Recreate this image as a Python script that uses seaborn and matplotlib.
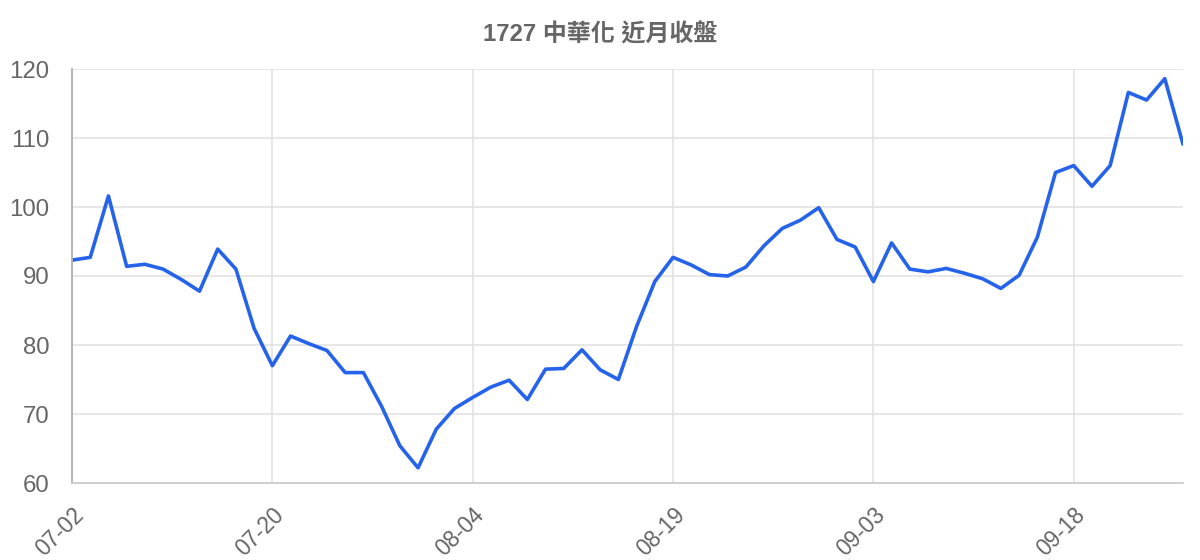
import matplotlib
matplotlib.use("Agg")
import matplotlib.pyplot as plt
import seaborn as sns
import numpy as np
import pandas as pd

title = "1727 中華化 近月收盤"
tick_labels = ["07-02", "07-20", "08-04", "08-19", "09-03", "09-18"]
tick_step = 11
close = [
    92.3, 92.7, 101.6, 91.4, 91.7, 91.0, 89.5, 87.8, 93.9, 91.0,
    82.4, 77.0, 81.3, 80.2, 79.2, 76.0, 76.0, 71.1, 65.4, 62.2,
    67.8, 70.8, 72.4, 73.9, 74.9, 72.1, 76.5, 76.6, 79.3, 76.4,
    75.0, 82.7, 89.2, 92.7, 91.6, 90.2, 90.0, 91.3, 94.4, 96.9,
    98.1, 99.9, 95.3, 94.2, 89.2, 94.8, 91.0, 90.6, 91.1, 90.4,
    89.6, 88.2, 90.1, 95.6, 105.0, 106.0, 103.0, 106.0, 116.6, 115.5,
    118.6, 109.1,
]

df = pd.DataFrame({"idx": np.arange(len(close)), "close": close})

sns.set_theme(style="white")
plt.rcParams["font.family"] = ["Liberation Sans", "Noto Sans CJK TC", "DejaVu Sans"]

fig = plt.figure(figsize=(12, 5.6), dpi=100)
ax = fig.add_axes([72 / 1200, 77 / 560, 1111 / 1200, 414 / 560])

sns.lineplot(data=df, x="idx", y="close", ax=ax, color="#2563eb", linewidth=2.6)

ax.set_xlim(0, len(close) - 1)
ax.set_ylim(60, 120)
ax.set_yticks(np.arange(60, 121, 10))
ax.set_xticks(np.arange(0, len(close), tick_step)[: len(tick_labels)])
ax.set_xticklabels(tick_labels, rotation=45, ha="right", va="top", rotation_mode="anchor")

grid_c = "#e0e0e0"
ax.grid(True, color=grid_c, linewidth=1.1)
ax.set_axisbelow(True)
for s in ["top", "right"]:
    ax.spines[s].set_visible(False)
ax.spines["left"].set_color("#b0b0b0")
ax.spines["left"].set_linewidth(1.3)
ax.spines["bottom"].set_color("#cccccc")
ax.spines["bottom"].set_linewidth(1.3)
ax.tick_params(axis="both", length=14.4, width=1.1, color=grid_c,
               labelcolor="#666666", pad=2)
ax.tick_params(axis="y", labelsize=17.3)
ax.tick_params(axis="x", labelsize=16.3, pad=0.5)
ax.xaxis.get_major_ticks()[0].tick1line.set_color("#b0b0b0")
ax.set_xlabel("")
ax.set_ylabel("")

fig.text(0.5, 1 - 35 / 560, title, ha="center", va="center",
         fontsize=17.3, fontweight="bold", color="#666666")

fig.savefig("out.png", dpi=100)
